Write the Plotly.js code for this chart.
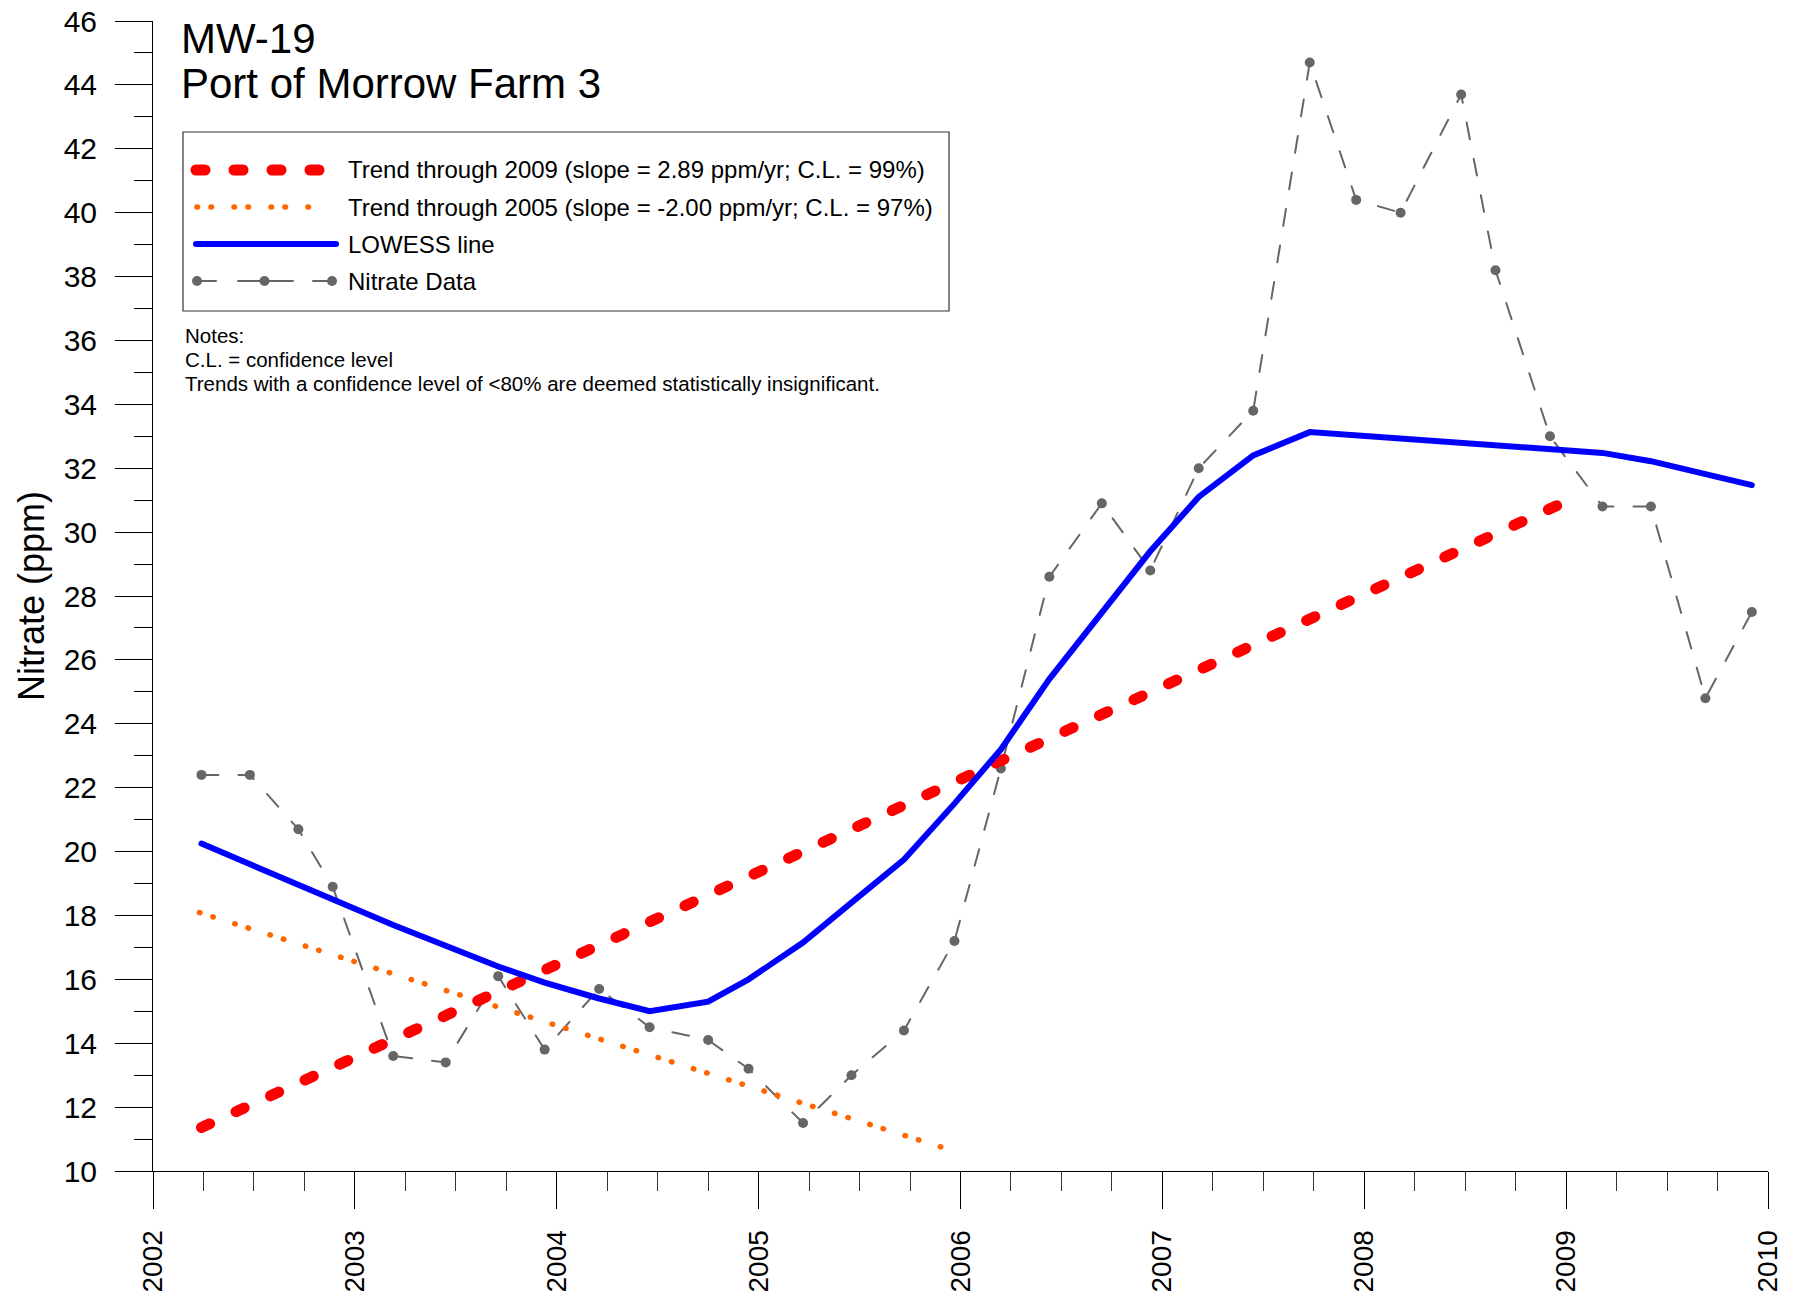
<!DOCTYPE html>
<html>
<head>
<meta charset="utf-8">
<script src="https://cdn.plot.ly/plotly-3.0.1.min.js"></script>
<style>
  body { margin: 0; background: #fff; }
  #NitratePlot { width: 1795px; height: 1296px; }
  /* rounded dash ends, the trend lines in the original are drawn as blobs */
  .scatterlayer .js-line, .shapelayer path { stroke-linecap: round; }
</style>
</head>
<body>
<div id="NitratePlot"></div>
<script>
// sample dates as decimal years
let sampleDates = [2002.24, 2002.48, 2002.72, 2002.89, 2003.19, 2003.45, 2003.71, 2003.94,
                   2004.21, 2004.46, 2004.75, 2004.95, 2005.22, 2005.46, 2005.72, 2005.97,
                   2006.20, 2006.44, 2006.70, 2006.94, 2007.18, 2007.45, 2007.73, 2007.96,
                   2008.18, 2008.48, 2008.65, 2008.92, 2009.18, 2009.42, 2009.69, 2009.92];

// measured nitrate (ppm)
let nitrateValues = [22.4, 22.4, 20.7, 18.9, 13.6, 13.4, 16.1, 13.8,
                     15.7, 14.5, 14.1, 13.2, 11.5, 13.0, 14.4, 17.2,
                     22.6, 28.6, 30.9, 28.8, 32.0, 33.8, 44.7, 40.4,
                     40.0, 43.7, 38.2, 33.0, 30.8, 30.8, 24.8, 27.5];

// LOWESS line read at the same dates
let lowessValues = [20.25, 19.6, 19.0, 18.5, 17.7, 17.05, 16.4, 15.9,
                    15.4, 15.0, 15.3, 16.0, 17.15, 18.4, 19.75, 21.5,
                    23.2, 25.4, 27.5, 29.4, 31.1, 32.4, 33.13, 33.03,
                    32.93, 32.79, 32.72, 32.6, 32.48, 32.22, 31.83, 31.47];

// trend lines (end points)
let trend2009Dates = [2002.24, 2009.02];
let trend2009Values = [11.36, 31.02];
let trend2005Dates = [2002.23, 2005.94];
let trend2005Values = [18.09, 10.68];

let wellName = "MW-19";
let siteName = "Port of Morrow Farm 3";
let legendLabels = [
    "Trend through 2009 (slope = 2.89 ppm/yr; C.L. = 99%)",
    "Trend through 2005 (slope = -2.00 ppm/yr; C.L. = 97%)",
    "LOWESS line",
    "Nitrate Data"
];
let noteLines = [
    "Notes:",
    "C.L. = confidence level",
    "Trends with a confidence level of <80% are deemed statistically insignificant."
];

// plot area in page pixels, used to place the hand drawn legend box
const plotL = 153, plotR = 1768, plotT = 21, plotB = 1171;
function paperX(p) { return (p - plotL) / (plotR - plotL); }
function paperY(p) { return (plotB - p) / (plotB - plotT); }

const fontFamily = "Liberation Sans, Arial, sans-serif";
const grey = "#666666";

let dataTrace = {
    x: sampleDates,
    y: nitrateValues,
    mode: "lines+markers",
    line: { color: grey, width: 2, dash: "17px,20px" },
    marker: { color: grey, size: 10 },
    showlegend: false
};

let trend2005Trace = {
    x: trend2005Dates,
    y: trend2005Values,
    mode: "lines",
    line: { color: "#ff6600", width: 5.5, dash: "0.5px,13.5px,0.5px,22.5px" },
    showlegend: false
};

let trend2009Trace = {
    x: trend2009Dates,
    y: trend2009Values,
    mode: "lines",
    line: { color: "#ff0000", width: 11, dash: "9px,29px" },
    showlegend: false
};

let lowessTrace = {
    x: sampleDates,
    y: lowessValues,
    mode: "lines",
    line: { color: "#0000ff", width: 6 },
    showlegend: false
};

// legend: box, samples and labels
let shapes = [
    { type: "rect", xref: "paper", yref: "paper",
      x0: paperX(183), x1: paperX(949), y0: paperY(132), y1: paperY(311),
      line: { color: "#333", width: 1.2 } },
    { type: "line", xref: "paper", yref: "paper",
      x0: paperX(196), x1: paperX(319), y0: paperY(170), y1: paperY(170),
      line: { color: "#ff0000", width: 11, dash: "9px,29px" } },
    { type: "line", xref: "paper", yref: "paper",
      x0: paperX(197), x1: paperX(322), y0: paperY(207), y1: paperY(207),
      line: { color: "#ff6600", width: 5.5, dash: "0.5px,13.5px,0.5px,22.5px" } },
    { type: "line", xref: "paper", yref: "paper",
      x0: paperX(196), x1: paperX(336), y0: paperY(244), y1: paperY(244),
      line: { color: "#0000ff", width: 6 } },
    { type: "line", xref: "paper", yref: "paper",
      x0: paperX(197), x1: paperX(332), y0: paperY(281), y1: paperY(281),
      line: { color: grey, width: 2, dash: "19px,22px,55px,20px,19px,100px" } }
];
[197, 264.5, 332].forEach(cx => {
    shapes.push({ type: "circle", xref: "paper", yref: "paper",
        x0: paperX(cx - 5), x1: paperX(cx + 5), y0: paperY(286), y1: paperY(276),
        fillcolor: grey, line: { width: 0 } });
});

let annotations = [];
function addText(text, x, y, size) {
    annotations.push({ text: text, xref: "paper", yref: "paper",
        x: paperX(x), y: paperY(y), xanchor: "left", yanchor: "middle",
        showarrow: false, font: { size: size, color: "#000", family: fontFamily } });
}
addText(wellName, 179, 38, 42);
addText(siteName, 179, 83, 42);
legendLabels.forEach((lbl, i) => addText(lbl, 346, 170 + i * 37, 24));
noteLines.forEach((ln, i) => addText(ln, 183, 335 + i * 24, 20.5));

let layout = {
    width: 1795,
    height: 1296,
    paper_bgcolor: "#fff",
    plot_bgcolor: "#fff",
    font: { family: fontFamily, color: "#000" },
    margin: { l: plotL, r: 1795 - plotR, t: plotT, b: 1296 - plotB, pad: 0 },
    showlegend: false,
    xaxis: {
        range: [2002, 2010],
        tick0: 2002, dtick: 1,
        ticks: "outside", ticklen: 37, tickwidth: 1, tickcolor: "#000",
        tickangle: -90,
        tickfont: { size: 28 },
        ticklabelstandoff: 10,
        minor: { ticks: "outside", ticklen: 19, tickwidth: 1, tickcolor: "#333", dtick: 0.25, tick0: 2002, showgrid: false },
        showline: true, linecolor: "#000", linewidth: 1,
        showgrid: false, zeroline: false
    },
    yaxis: {
        range: [10, 46],
        tick0: 10, dtick: 2,
        ticks: "outside", ticklen: 37, tickwidth: 1, tickcolor: "#000",
        tickfont: { size: 30 },
        ticklabelstandoff: 12,
        minor: { ticks: "outside", ticklen: 18, tickwidth: 1, tickcolor: "#000", dtick: 1, tick0: 10, showgrid: false },
        showline: true, linecolor: "#000", linewidth: 1,
        showgrid: false, zeroline: false,
        title: { text: "Nitrate (ppm)", font: { size: 36 }, standoff: 8 }
    },
    shapes: shapes,
    annotations: annotations
};

let traces = [dataTrace, trend2005Trace, trend2009Trace, lowessTrace];

Plotly.newPlot("NitratePlot", traces, layout, { displayModeBar: false, staticPlot: true });
</script>
</body>
</html>
